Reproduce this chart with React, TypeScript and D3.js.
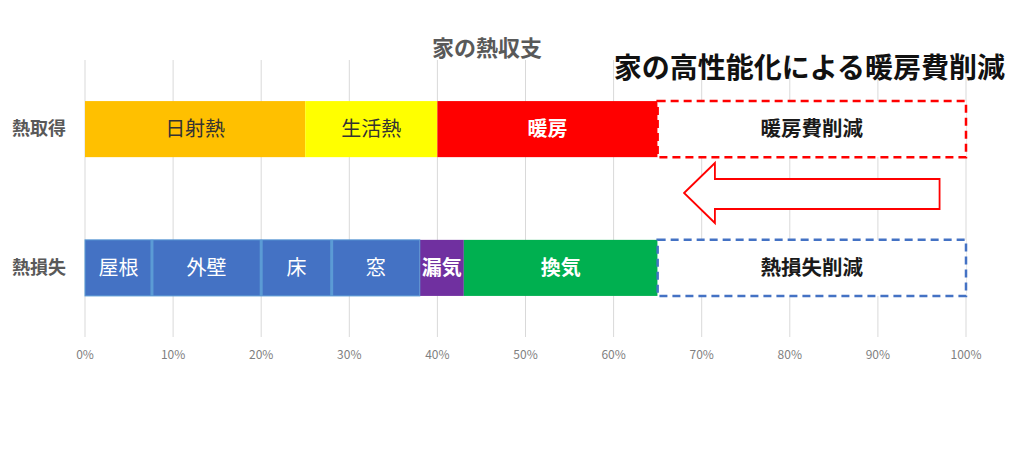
import React, { useEffect, useRef } from 'react';
import * as d3 from 'd3';

const chartTitle = '家の熱収支';
const headline = '家の高性能化による暖房費削減';
const categories = ['熱取得', '熱損失'];
const gainLabels = ['日射熱', '生活熱', '暖房'];
const gainValues = [0.25, 0.15, 0.25];
const lossLabels = ['屋根', '外壁', '床', '窓', '漏気', '換気'];
const lossValues = [0.076, 0.124, 0.08, 0.1, 0.05, 0.22];
const savingLabels = ['暖房費削減', '熱損失削減'];
const savingValues = [0.35, 0.35];
const ticks = [0, 0.1, 0.2, 0.3, 0.4, 0.5, 0.6, 0.7, 0.8, 0.9, 1];

const gainColors = ['#FFC000', '#FFFF00', '#FF0000'];
const gainText = ['#333333', '#333333', '#ffffff'];
const gainBold = [false, false, true];
const lossColors = ['#4472C4', '#4472C4', '#4472C4', '#4472C4', '#7030A0', '#00B050'];
const lossBold = [false, false, false, false, true, true];
const savingColors = ['#FF0000', '#4472C4'];

const FONT = '"Noto Sans CJK JP", "Noto Sans", sans-serif';

const App = () => {
    const svgRef = useRef<SVGSVGElement>(null);

    useEffect(() => {
        const svgWidth = 1024;
        const svgHeight = 449;
        const svg = d3.select(svgRef.current)
            .attr('width', svgWidth)
            .attr('height', svgHeight);
        svg.selectAll('*').remove();

        const x = d3.scaleLinear().domain([0, 1]).range([85, 966]);
        const y = d3.scaleBand<string>()
            .domain(categories)
            .range([60, 337])
            .paddingInner(0.596)
            .paddingOuter(0.296);
        const bw = y.bandwidth();

        // gridlines
        svg.append('g').selectAll('line')
            .data(ticks)
            .enter()
            .append('line')
            .attr('x1', d => x(d))
            .attr('x2', d => x(d))
            .attr('y1', 60)
            .attr('y2', 337)
            .attr('stroke', '#d9d9d9')
            .attr('stroke-width', 1);

        // tick labels
        svg.append('g').selectAll('text')
            .data(ticks)
            .enter()
            .append('text')
            .attr('x', d => x(d))
            .attr('y', 359)
            .attr('text-anchor', 'middle')
            .attr('font-family', FONT)
            .attr('font-size', 12)
            .attr('fill', '#7f7f7f')
            .text(d => d3.format('.0%')(d));

        // category labels
        svg.append('g').selectAll('text')
            .data(categories)
            .enter()
            .append('text')
            .attr('x', 39)
            .attr('y', d => (y(d) as number) + bw / 2 + 6)
            .attr('text-anchor', 'middle')
            .attr('font-family', FONT)
            .attr('font-size', 18)
            .attr('font-weight', 'bold')
            .attr('fill', '#595959')
            .text(d => d);

        const stackRow = (labels: string[], values: number[], cat: string) => {
            let acc = 0;
            return labels.map((label, i) => {
                const start = acc;
                acc += values[i];
                return { label, start, end: acc, i, cat };
            });
        };

        const gain = stackRow(gainLabels, gainValues, categories[0]);
        const loss = stackRow(lossLabels, lossValues, categories[1]);

        const drawRow = (rows: any[], colors: string[], textColors: string[], bold: boolean[], sepColor: string | null) => {
            const g = svg.append('g');
            g.selectAll('rect')
                .data(rows)
                .enter()
                .append('rect')
                .attr('x', d => x(d.start))
                .attr('y', d => y(d.cat) as number)
                .attr('width', d => x(d.end) - x(d.start))
                .attr('height', bw)
                .attr('fill', d => colors[d.i]);
            if (sepColor) {
                g.selectAll('line')
                    .data(rows.filter(d => d.i < 4 && d.i > 0))
                    .enter()
                    .append('line')
                    .attr('x1', d => x(d.start))
                    .attr('x2', d => x(d.start))
                    .attr('y1', d => y(d.cat) as number)
                    .attr('y2', d => (y(d.cat) as number) + bw)
                    .attr('stroke', sepColor)
                    .attr('stroke-width', 3);
                g.append('rect')
                    .attr('x', x(0))
                    .attr('y', y(rows[0].cat) as number)
                    .attr('width', x(rows[3].end) - x(0))
                    .attr('height', bw)
                    .attr('fill', 'none')
                    .attr('stroke', sepColor)
                    .attr('stroke-width', 1);
            }
            g.selectAll('text')
                .data(rows)
                .enter()
                .append('text')
                .attr('x', d => (x(d.start) + x(d.end)) / 2)
                .attr('y', d => (y(d.cat) as number) + bw / 2 + 7)
                .attr('text-anchor', 'middle')
                .attr('font-family', FONT)
                .attr('font-size', 20)
                .attr('font-weight', d => (bold[d.i] ? 'bold' : 'normal'))
                .attr('fill', d => textColors[d.i])
                .text(d => d.label);
        };

        drawRow(gain, gainColors, gainText, gainBold, null);
        drawRow(loss, lossColors, lossColors.map(() => '#ffffff'), lossBold, '#5B9BD5');

        // dashed saving boxes
        const savings = savingLabels.map((label, i) => ({
            label,
            cat: categories[i],
            start: (i === 0 ? d3.sum(gainValues) : d3.sum(lossValues)),
            value: savingValues[i],
            color: savingColors[i],
        }));
        const sg = svg.append('g');
        sg.selectAll('rect')
            .data(savings)
            .enter()
            .append('rect')
            .attr('x', d => x(d.start))
            .attr('y', d => y(d.cat) as number)
            .attr('width', d => x(d.start + d.value) - x(d.start))
            .attr('height', bw)
            .attr('fill', '#ffffff')
            .attr('stroke', d => d.color)
            .attr('stroke-width', 2.5)
            .attr('stroke-dasharray', '8,5');
        sg.selectAll('text')
            .data(savings)
            .enter()
            .append('text')
            .attr('x', d => x(d.start + d.value / 2))
            .attr('y', d => (y(d.cat) as number) + bw / 2 + 7)
            .attr('text-anchor', 'middle')
            .attr('font-family', FONT)
            .attr('font-size', 20.5)
            .attr('font-weight', 'bold')
            .attr('fill', '#1a1a1a')
            .text(d => d.label);

        // arrow pointing left
        const ay = 193;
        const tipX = x(0.68);
        const headX = x(0.715);
        const endX = x(0.97);
        const arrow = [
            [tipX, ay],
            [headX, ay - 30],
            [headX, ay - 14],
            [endX, ay - 14],
            [endX, ay + 16],
            [headX, ay + 16],
            [headX, ay + 30],
        ];
        svg.append('path')
            .attr('d', d3.line()(arrow as [number, number][]) + 'Z')
            .attr('fill', '#ffffff')
            .attr('stroke', '#FF0000')
            .attr('stroke-width', 1.8);

        // titles
        svg.append('text')
            .attr('x', 487)
            .attr('y', 56)
            .attr('text-anchor', 'middle')
            .attr('font-family', FONT)
            .attr('font-size', 22)
            .attr('font-weight', 'bold')
            .attr('fill', '#595959')
            .text(chartTitle);

        svg.append('text')
            .attr('x', 1005)
            .attr('y', 78)
            .attr('text-anchor', 'end')
            .attr('font-family', FONT)
            .attr('font-size', 28)
            .attr('font-weight', 'bold')
            .attr('fill', '#111111')
            .text(headline);
    }, []);

    return (
        <svg ref={svgRef} style={{ position: 'absolute', left: 0, top: 0 }}></svg>
    );
};

export default App;
